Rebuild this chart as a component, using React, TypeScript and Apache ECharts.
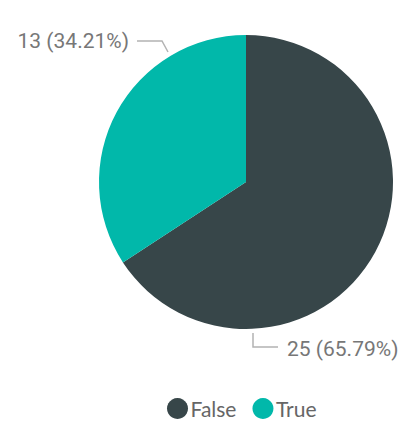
import React, { useEffect, useRef } from "react";
import * as echarts from "echarts";

const categories = ["False", "True"];
const values = [25, 13];
const colors = ["#374649", "#01B8AA"];

const CX = 246;
const CY = 182;
const R = 147;

export default function App() {
  const ref = useRef<HTMLDivElement>(null);
  useEffect(() => {
    document.body.style.margin = "0";
    const chart = echarts.init(ref.current!, undefined, { renderer: "svg" });
    chart.setOption({
      animation: false,
      color: colors,
      legend: {
        data: categories,
        left: 167,
        top: 398,
        padding: 0,
        icon: "circle",
        itemWidth: 22,
        itemHeight: 21,
        itemGap: 16,
        textStyle: { fontFamily: "Lato", fontSize: 21, color: "#666666", padding: [0, 0, 0, -3] },
      },
      series: [
        {
          type: "pie",
          center: [CX, CY],
          radius: [0, R],
          startAngle: 90,
          clockwise: true,
          data: categories.map((c, i) => ({ name: c, value: values[i] })),
          label: {
            show: true,
            formatter: (p: any) => `${p.value} (${p.percent.toFixed(2)}%)`,
            fontFamily: "Roboto",
            fontSize: 21,
            color: "#777777",
            overflow: "none",
            width: 200,
            edgeDistance: 0,
            bleedMargin: 0,
          },
          labelLine: {
            show: true,
            lineStyle: { color: "#b3b3b3", width: 1.5 },
          },
          labelLayout: (params: any) => {
            if (params.dataIndex === 1) {
              return {
                x: CX - 117,
                y: CY - 141,
                align: "right",
                verticalAlign: "middle",
                labelLinePoints: [
                  [CX - 78, CY - 130],
                  [CX - 84, CY - 141],
                  [CX - 109, CY - 141],
                ],
              };
            }
            return {
              x: CX + 41,
              y: CY + 167,
              align: "left",
              verticalAlign: "middle",
              labelLinePoints: [
                [CX + 7, CY + 151],
                [CX + 7, CY + 165],
                [CX + 32, CY + 165],
              ],
            };
          },
          emphasis: { disabled: true },
        },
      ],
    });
    return () => chart.dispose();
  }, []);
  return <div ref={ref} style={{ width: 402, height: 426 }} />;
}
